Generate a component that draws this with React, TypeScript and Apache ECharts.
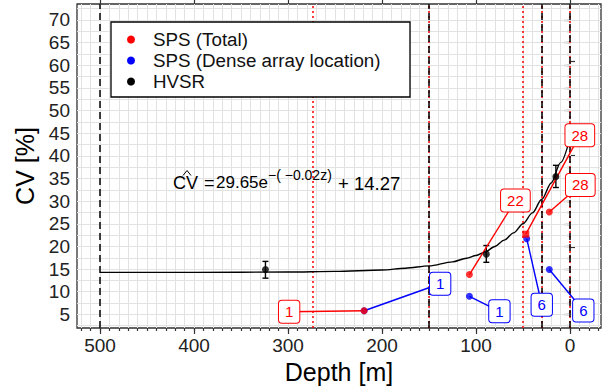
import React, { useEffect, useRef } from "react";
import * as echarts from "echarts";

// ---- data ----
const spsTotalDepth = [219, 107, 47, 22];
const spsTotalCV = [5.8, 13.8, 22.7, 27.6];
const spsTotalCount = ["1", "22", "28", "28"];

const spsDenseDepth = [219, 107, 46, 22];
const spsDenseCV = [5.8, 9.0, 21.7, 14.9];
const spsDenseCount = ["1", "1", "6", "6"];

const hvsrDepth = [324, 89, 15];
const hvsrCV = [14.9, 18.3, 35.4];
const hvsrLow = [13.0, 16.5, 33.0];
const hvsrHigh = [16.7, 20.2, 37.9];

const fitDepth = [500, 400, 300, 250, 200, 175, 150, 125, 110, 100, 90, 80, 70, 60, 50, 40, 30, 20, 10, 0];
const fitCV = [14.27, 14.28, 14.35, 14.5, 14.8, 15.2, 15.7, 16.6, 17.4, 18.0, 18.8, 20.0, 21.4, 23.0, 25.0, 27.4, 30.4, 34.0, 38.5, 43.9];

const boundaryDepths = [500, 150, 30, 0];
const referenceDepths = [274, 150, 50, 30, 0];

const legendNames = ["SPS (Total)", "SPS (Dense array location)", "HVSR"];

const xTickLabels = [0, 100, 200, 300, 400, 500];
const yTickLabels = [5, 10, 15, 20, 25, 30, 35, 40, 45, 50, 55, 60, 65, 70];
const rightTicks = [19.9, 40.2, 60.8];

// ---- styles ----
const FONT = '"Liberation Sans", Arial, sans-serif';
const RED = "#ff0000";
const BLUE = "#0000ff";
const legendColors = [RED, BLUE, "#000000"];
const totalLabelOffset = [[-75, 1], [46, -74], [54, -99], [31, -27]];
const denseLabelOffset = [[76, -27], [30, 15], [15, 66], [34, 41]];

const X_MIN = -33;
const X_MAX = 524.5;
const Y_MIN = 2;
const Y_MAX = 73.5;

function range(a: number, b: number, step: number) {
  const out: number[] = [];
  for (let v = a; v <= b + 1e-9; v += step) out.push(Math.round(v * 100) / 100);
  return out;
}
const xMinor = range(-30, 520, 10);
const yMinor = range(2.5, 72.5, 2.5);

function labelSeries(name: string, depth: number[], cv: number[], counts: string[], offsets: number[][], color: string) {
  return {
    type: "custom",
    name: name + " labels",
    z: 6,
    silent: true,
    data: depth.map((d, i) => [d, cv[i]]),
    renderItem: (params: any, api: any) => {
      const i = params.dataIndex;
      const p = api.coord([api.value(0), api.value(1)]);
      const off = offsets[i];
      const lx = p[0] + off[0];
      const ly = p[1] + off[1];
      return {
        type: "group",
        children: [
          {
            type: "line",
            shape: { x1: p[0], y1: p[1], x2: lx, y2: ly },
            style: { stroke: color, lineWidth: 1.4 },
          },
          {
            type: "text",
            x: lx,
            y: ly,
            style: {
              text: counts[i],
              fill: color,
              fontSize: 15,
              fontFamily: FONT,
              align: "center",
              verticalAlign: "middle",
              backgroundColor: "#ffffff",
              borderColor: color,
              borderWidth: 1,
              borderRadius: 3,
              padding: [4, 6, 3, 6],
            },
          },
        ],
      };
    },
  };
}

export default function App() {
  const ref = useRef<HTMLDivElement>(null);
  useEffect(() => {
    if (!ref.current) return;
    const chart = echarts.init(ref.current, undefined, { renderer: "svg" });
    const xBase = { type: "value", inverse: true, min: X_MIN, max: X_MAX, splitLine: { show: false }, axisLine: { show: false } };
    const yBase = { type: "value", min: Y_MIN, max: Y_MAX, splitLine: { show: false }, axisLine: { show: false } };
    const tickStyle = { color: "#333", width: 1.2 };

    const legendGraphics: any[] = [
      { type: "rect", z: 4, shape: { x: 111, y: 22, width: 299, height: 75 }, style: { fill: "#fff", stroke: "#000", lineWidth: 1.3 } },
    ];
    legendNames.forEach((n, i) => {
      const cy = 39.5 + i * 21;
      legendGraphics.push({ type: "circle", z: 4, shape: { cx: 131, cy, r: 4 }, style: { fill: legendColors[i] } });
      legendGraphics.push({
        type: "text",
        z: 4,
        x: 153,
        y: cy,
        style: { text: n, fontSize: 18.8, lineHeight: 18, fontFamily: FONT, fill: "#111", verticalAlign: "middle", align: "left" },
      });
    });

    const eqGraphics: any[] = [
      {
        type: "polyline",
        z: 4,
        shape: { points: [[183, 175.5], [187, 170.5], [191, 175.5]] },
        style: { stroke: "#000", lineWidth: 1, fill: null },
      },
      { type: "text", z: 4, x: 173, y: 174, style: { text: "CV", fontSize: 18, fontFamily: FONT, fill: "#000" } },
      { type: "text", z: 4, x: 204, y: 174, style: { text: "=", fontSize: 18, fontFamily: FONT, fill: "#000" } },
      { type: "text", z: 4, x: 216, y: 174, style: { text: "29.65e", fontSize: 17, fontFamily: FONT, fill: "#000" } },
      { type: "text", z: 4, x: 268, y: 168, style: { text: "−( −0.02z)", fontSize: 14, lineHeight: 13, fontFamily: FONT, fill: "#000" } },
      { type: "text", z: 4, x: 338, y: 174, style: { text: "+ 14.27", fontSize: 18.5, fontFamily: FONT, fill: "#000" } },
    ];

    const option: any = {
      animation: false,
      backgroundColor: "#ffffff",
      grid: { left: 77, right: 3, top: 4, bottom: 62, show: true, borderColor: "#333", borderWidth: 1.3, backgroundColor: "#fff" },
      xAxis: [
        {
          ...xBase,
          position: "bottom",
          axisTick: { show: true, length: 6, customValues: xTickLabels, lineStyle: tickStyle },
          axisLabel: { customValues: xTickLabels, fontSize: 19, color: "#222", fontFamily: FONT, margin: 8 },
          name: "Depth [m]",
          nameLocation: "middle",
          nameGap: 29,
          nameTextStyle: { fontSize: 25, color: "#000", fontFamily: FONT },
        },
        {
          ...xBase,
          position: "bottom",
          axisTick: { show: true, length: 3, customValues: xMinor, lineStyle: tickStyle },
          axisLabel: { show: false },
        },
        {
          ...xBase,
          position: "top",
          axisTick: { show: true, length: 6, customValues: xTickLabels, lineStyle: tickStyle },
          axisLabel: { show: false },
        },
      ],
      yAxis: [
        {
          ...yBase,
          position: "left",
          axisTick: { show: true, length: 6, customValues: yTickLabels, lineStyle: tickStyle },
          axisLabel: { customValues: yTickLabels, fontSize: 19, color: "#222", fontFamily: FONT, margin: 7 },
          name: "CV [%]",
          nameLocation: "middle",
          nameGap: 33,
          nameRotate: 90,
          nameTextStyle: { fontSize: 25, color: "#000", fontFamily: FONT },
        },
        {
          ...yBase,
          position: "left",
          axisTick: { show: true, length: 3, customValues: yMinor, lineStyle: tickStyle },
          axisLabel: { show: false },
        },
        {
          ...yBase,
          position: "right",
          axisTick: { show: true, length: 5, customValues: rightTicks, lineStyle: tickStyle },
          axisLabel: { show: false },
        },
      ],
      graphic: [...legendGraphics, ...eqGraphics],
      series: [
        {
          type: "line",
          name: "grid",
          data: [],
          z: 1,
          silent: true,
          markLine: {
            z: 1,
            silent: true,
            symbol: ["none", "none"],
            label: { show: false },
            lineStyle: { color: "#e2e2e2", width: 1, type: "solid" },
            data: [...xMinor.map((v) => ({ xAxis: v })), ...yMinor.map((v) => ({ yAxis: v }))],
          },
        },
        {
          type: "line",
          name: "depth markers",
          data: [],
          z: 3,
          silent: true,
          markLine: {
            z: 3,
            silent: true,
            symbol: ["none", "none"],
            label: { show: false },
            data: [
              ...referenceDepths.map((v) => ({ xAxis: v, lineStyle: { color: RED, width: 1.5, type: [2, 3] } })),
              ...boundaryDepths.map((v) => ({ xAxis: v, lineStyle: { color: "#000", width: 1.5, type: [7, 4] } })),
            ],
          },
        },
        {
          type: "line",
          name: "fit",
          z: 4,
          silent: true,
          showSymbol: false,
          smooth: 0.3,
          smoothMonotone: "x",
          lineStyle: { color: "#000", width: 1.4 },
          data: fitDepth.map((d, i) => [d, fitCV[i]]),
        },
        labelSeries(legendNames[1], spsDenseDepth, spsDenseCV, spsDenseCount, denseLabelOffset, BLUE),
        labelSeries(legendNames[0], spsTotalDepth, spsTotalCV, spsTotalCount, totalLabelOffset, RED),
        {
          type: "custom",
          name: "HVSR error",
          z: 5,
          silent: true,
          data: hvsrDepth.map((d, i) => [d, hvsrLow[i], hvsrHigh[i]]),
          renderItem: (params: any, api: any) => {
            const lo = api.coord([api.value(0), api.value(1)]);
            const hi = api.coord([api.value(0), api.value(2)]);
            const w = 3;
            const st = { stroke: "#000", lineWidth: 1.4 };
            return {
              type: "group",
              children: [
                { type: "line", shape: { x1: lo[0], y1: lo[1], x2: hi[0], y2: hi[1] }, style: st },
                { type: "line", shape: { x1: lo[0] - w, y1: lo[1], x2: lo[0] + w, y2: lo[1] }, style: st },
                { type: "line", shape: { x1: hi[0] - w, y1: hi[1], x2: hi[0] + w, y2: hi[1] }, style: st },
              ],
            };
          },
        },
        {
          type: "scatter",
          name: legendNames[1],
          z: 7,
          symbolSize: 7,
          itemStyle: { color: BLUE },
          data: spsDenseDepth.map((d, i) => [d, spsDenseCV[i]]),
        },
        {
          type: "scatter",
          name: legendNames[0],
          z: 7,
          symbolSize: 7,
          itemStyle: { color: RED },
          data: spsTotalDepth.map((d, i) => ({ value: [d, spsTotalCV[i]], symbol: i === 2 ? "rect" : "circle" })),
        },
        {
          type: "scatter",
          name: legendNames[2],
          z: 7,
          symbolSize: 7,
          itemStyle: { color: "#000" },
          data: hvsrDepth.map((d, i) => [d, hvsrCV[i]]),
        },
      ],
    };
    chart.setOption(option);
    return () => chart.dispose();
  }, []);
  return <div ref={ref} style={{ width: 604, height: 390, position: "absolute", left: 0, top: 0 }} />;
}
